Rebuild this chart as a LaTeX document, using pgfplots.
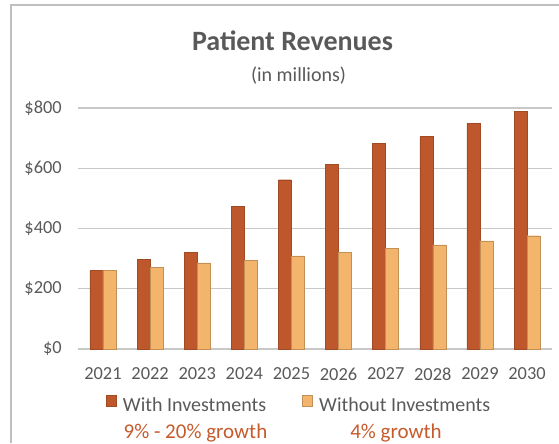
\documentclass[border=0pt]{standalone}
\usepackage{pgfplots}
\pgfplotsset{compat=1.18}
\usepackage{fontspec}
\setmainfont{Carlito}
\definecolor{darkbar}{HTML}{BE582C}
\definecolor{lightbar}{HTML}{F3B46C}
\definecolor{txtgray}{HTML}{595959}
\definecolor{gridgray}{HTML}{C8C8C8}
\definecolor{framegray}{HTML}{BFBFBF}
\definecolor{annot}{HTML}{C55A2B}
\begin{document}
\begin{tikzpicture}
\useasboundingbox (0pt,0pt) rectangle (419.25pt,-332.25pt);
\draw[framegray, line width=1.5pt] (8.25pt,-332.25pt) -- (8.25pt,-3.75pt) -- (420pt,-3.75pt);
\begin{axis}[
  at={(58.5pt,-261.75pt)}, anchor=south west,
  scale only axis, width=355.5pt, height=180.75pt,
  xmin=-0.53, xmax=9.53, ymin=0, ymax=800,
  ybar=0pt, bar width=9.75pt,
  axis line style={draw=none},
  major tick length=0pt,
  ymajorgrids, grid style={gridgray, line width=0.9pt},
  xtick={0,...,9},
  xticklabels={2021,2022,2023,2024,2025,2026,2027,2028,2029,2030},
  ytick={0,200,400,600,800},
  yticklabels={\$0,\$200,\$400,\$600,\$800},
  xticklabel style={font=\fontsize{13.8pt}{15pt}\selectfont, text=txtgray, anchor=north, inner sep=0pt, yshift=-14pt},
  yticklabel style={font=\fontsize{13.8pt}{15pt}\selectfont, text=txtgray, anchor=east, inner sep=0pt, xshift=-12pt},
  legend style={at={(0.467,-0.2365)}, anchor=center, draw=none, fill=none,
    font=\fontsize{15pt}{17pt}\selectfont, text=txtgray,
    /tikz/every odd column/.append style={column sep=3pt},
    /tikz/every even column/.append style={column sep=25pt}},
  legend columns=2,
  legend image code/.code={\fill[#1] (0pt,0pt) rectangle (7.5pt,7.8pt);},
]
\addplot[fill=darkbar, draw=darkbar!85!black, line width=0.3pt] coordinates {
(0,260) (1,297) (2,322) (3,473) (4,562) (5,614) (6,683) (7,705) (8,748) (9,790)};
\addlegendentry{With Investments}
\addplot[fill=lightbar, draw=lightbar!80!black, line width=0.3pt] coordinates {
(0,262) (1,271) (2,286) (3,295) (4,309) (5,320) (6,333) (7,346) (8,359) (9,376)};
\addlegendentry{Without Investments}
\end{axis}
\node[anchor=base, text=txtgray, font=\fontsize{21pt}{24pt}\selectfont\bfseries] at (219.4pt,-37.5pt) {Patient Revenues};
\node[anchor=base, text=txtgray, font=\fontsize{15pt}{17pt}\selectfont] at (223.9pt,-60.75pt) {(in millions)};
\node[anchor=base, text=annot, font=\fontsize{15.75pt}{18pt}\selectfont] at (146.6pt,-328.5pt) {9\% - 20\% growth};
\node[anchor=base, text=annot, font=\fontsize{15.75pt}{18pt}\selectfont] at (297pt,-328.5pt) {4\% growth};
\end{tikzpicture}
\end{document}
